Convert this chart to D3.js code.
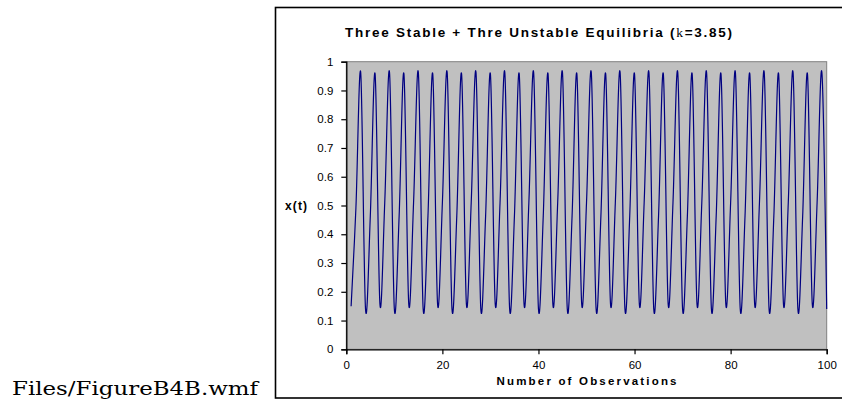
<!DOCTYPE html>
<html>
<head>
<meta charset="utf-8">
<script src="https://cdn.jsdelivr.net/npm/d3@7"></script>
<style>
  body { margin: 0; background: #fff; }
  svg text { font-family: "Liberation Sans", Arial, sans-serif; fill: #000; }
</style>
</head>
<body>
<div id="chart"></div>
<script>
// observation number 1..100
var observations = d3.range(1, 101);
// x(t) values at each observation (settles into a six-point cycle)
var xValues = [
  0.150, 0.491, 0.962, 0.140, 0.464, 0.957, 0.157, 0.509, 0.962, 0.140,
  0.464, 0.957, 0.157, 0.509, 0.962, 0.140, 0.464, 0.957, 0.157, 0.509,
  0.962, 0.140, 0.464, 0.957, 0.157, 0.509, 0.962, 0.140, 0.464, 0.957,
  0.157, 0.509, 0.962, 0.140, 0.464, 0.957, 0.157, 0.509, 0.962, 0.140,
  0.464, 0.957, 0.157, 0.509, 0.962, 0.140, 0.464, 0.957, 0.157, 0.509,
  0.962, 0.140, 0.464, 0.957, 0.157, 0.509, 0.962, 0.140, 0.464, 0.957,
  0.157, 0.509, 0.962, 0.140, 0.464, 0.957, 0.157, 0.509, 0.962, 0.140,
  0.464, 0.957, 0.157, 0.509, 0.962, 0.140, 0.464, 0.957, 0.157, 0.509,
  0.962, 0.140, 0.464, 0.957, 0.157, 0.509, 0.962, 0.140, 0.464, 0.957,
  0.157, 0.509, 0.962, 0.140, 0.464, 0.957, 0.157, 0.509, 0.962, 0.140
];
var xTicks = [0, 20, 40, 60, 80, 100];
var yTicks = [0, 0.1, 0.2, 0.3, 0.4, 0.5, 0.6, 0.7, 0.8, 0.9, 1];

var svgWidth = 842;
var svgHeight = 407;

// plot area inside the chart frame
var plot = { left: 346.3, right: 826.7, top: 61.7, bottom: 349.3 };

var svg = d3.select("#chart")
  .append("svg")
  .attr("width", svgWidth)
  .attr("height", svgHeight);

// file caption at the bottom left
svg.append("text")
  .attr("x", 12)
  .attr("y", 395)
  .attr("textLength", 246)
  .attr("lengthAdjust", "spacingAndGlyphs")
  .style("font-family", "'DejaVu Serif', 'Liberation Serif', serif")
  .style("font-size", "18px")
  .text("Files/FigureB4B.wmf");

// chart frame
svg.append("rect")
  .attr("x", 275.5)
  .attr("y", 7.5)
  .attr("width", 600)
  .attr("height", 390.5)
  .attr("fill", "#fff")
  .attr("stroke", "#000")
  .attr("stroke-width", 1.6);

var xScale = d3.scaleLinear()
  .domain([0, 100])
  .range([plot.left, plot.right]);

var yScale = d3.scaleLinear()
  .domain([0, 1])
  .range([plot.bottom, plot.top]);

// grey plot background
svg.append("rect")
  .attr("x", plot.left)
  .attr("y", plot.top)
  .attr("width", plot.right - plot.left)
  .attr("height", plot.bottom - plot.top)
  .attr("fill", "#c0c0c0")
  .attr("stroke", "#808080")
  .attr("stroke-width", 1);

// the series, drawn as a smoothed line like the original
var line = d3.line()
  .curve(d3.curveCatmullRom.alpha(0))
  .x(d => xScale(d[0]))
  .y(d => yScale(d[1]));

svg.append("path")
  .datum(observations.map((t, i) => [t, xValues[i]]))
  .attr("d", line)
  .attr("fill", "none")
  .attr("stroke", "#000080")
  .attr("stroke-width", 1.2)
  .attr("stroke-linejoin", "round");

// axes
var bottomAxis = d3.axisBottom(xScale)
  .tickValues(xTicks)
  .tickSize(5)
  .tickPadding(7)
  .tickFormat(d3.format("d"));

var leftAxis = d3.axisLeft(yScale)
  .tickValues(yTicks)
  .tickSize(5)
  .tickPadding(8)
  .tickFormat(d => d === 0 || d === 1 ? String(d) : d3.format(".1f")(d));

var xAxisG = svg.append("g")
  .attr("transform", `translate(0, ${plot.bottom})`)
  .call(bottomAxis);

var yAxisG = svg.append("g")
  .attr("transform", `translate(${plot.left}, 0)`)
  .call(leftAxis);

[xAxisG, yAxisG].forEach(function(g) {
  g.select(".domain").attr("stroke", "#000").attr("stroke-width", 1.3);
  g.selectAll(".tick line").attr("stroke", "#000").attr("stroke-width", 1.2);
  g.selectAll(".tick text")
    .style("font-family", "'Liberation Sans', Arial, sans-serif")
    .style("font-size", "11.5px")
    .attr("fill", "#000");
});

// title
var title = svg.append("text")
  .attr("x", 538.5)
  .attr("y", 36.5)
  .attr("text-anchor", "middle")
  .attr("textLength", 387)
  .attr("lengthAdjust", "spacing")
  .style("font-size", "13.5px")
  .style("font-weight", "bold");
title.append("tspan").text("Three Stable + Thre Unstable Equilibria (");
title.append("tspan")
  .style("font-family", "'Liberation Serif', serif")
  .style("font-weight", "normal")
  .text("k");
title.append("tspan").text("=3.85)");

// y axis label
svg.append("text")
  .attr("x", 285)
  .attr("y", 209.5)
  .attr("textLength", 22)
  .attr("lengthAdjust", "spacing")
  .style("font-size", "12px")
  .style("font-weight", "bold")
  .text("x(t)");

// x axis label
svg.append("text")
  .attr("x", (plot.left + plot.right) / 2)
  .attr("y", 385)
  .attr("text-anchor", "middle")
  .attr("textLength", 180)
  .attr("lengthAdjust", "spacing")
  .style("font-size", "11.5px")
  .style("font-weight", "bold")
  .text("Number of Observations");
</script>
</body>
</html>
